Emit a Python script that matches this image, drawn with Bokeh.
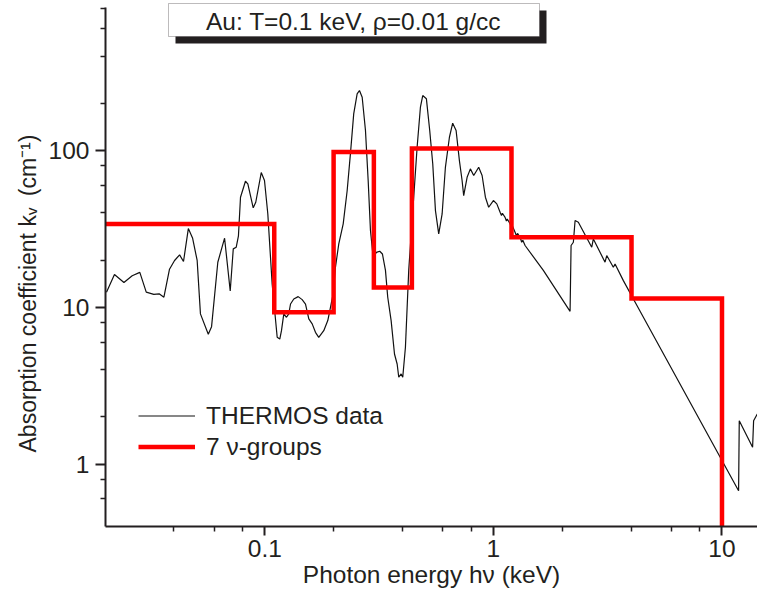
from bokeh.plotting import figure
from bokeh.models import (Range1d, FixedTicker, Label, BoxAnnotation, Legend, LegendItem, Title)
from bokeh.embed import file_html
from bokeh.resources import INLINE

# ---------------- data ----------------
thermos_energy_keV = [
    0.0203, 0.0220, 0.0242, 0.0263, 0.0284, 0.0303, 0.0327, 0.0345, 0.0362, 0.0383,
    0.0403, 0.0424, 0.0441, 0.0463, 0.0483, 0.0506, 0.0523, 0.0566, 0.0585, 0.0623,
    0.0667, 0.0706, 0.0728, 0.0750, 0.0767, 0.0783, 0.0823, 0.0843, 0.0890, 0.0913,
    0.0965, 0.0997, 0.1031, 0.1077, 0.1133, 0.1163, 0.1183, 0.1211, 0.1244, 0.1273,
    0.1296, 0.1339, 0.1400, 0.1457, 0.1507, 0.1558, 0.1612, 0.1666, 0.1722, 0.1811,
    0.1886, 0.1938, 0.1991, 0.2037, 0.2107, 0.2203, 0.2293, 0.2369, 0.2449, 0.2535,
    0.2595, 0.2667, 0.2757, 0.2833, 0.2899, 0.2979, 0.3078, 0.3183, 0.3270, 0.3372,
    0.3450, 0.3570, 0.3693, 0.3793, 0.3855, 0.3949, 0.4013, 0.4123, 0.4262, 0.4482,
    0.4638, 0.4795, 0.4908, 0.5093, 0.5266, 0.5429, 0.5579, 0.5765, 0.5967, 0.6167,
    0.6422, 0.6637, 0.6869, 0.7101, 0.7296, 0.7415, 0.7674, 0.7931, 0.8202, 0.8624,
    0.8925, 0.9227, 0.9537, 1.000, 1.035, 1.070, 1.085, 1.095, 1.125, 1.140,
    1.150, 1.183, 1.200, 1.210, 1.244, 1.260, 1.275, 1.309, 1.330, 1.345,
    1.376, 1.654, 2.165, 2.187, 2.238, 2.277, 2.353, 2.693, 2.737, 3.079,
    3.132, 3.348, 3.406, 3.703, 4.096, 11.82, 11.90, 13.61, 13.75, 14.27,
]
thermos_kappa = [
    12.5, 16.2, 14.4, 15.9, 16.7, 12.5, 12.1, 12.2, 11.6, 17.5,
    19.9, 21.6, 19.6, 31.8, 27.7, 19.9, 9.08, 6.73, 7.53, 19.4,
    27.6, 12.7, 23.6, 24.2, 28.6, 50.4, 63.7, 61.3, 43.1, 46.8,
    72.4, 64.4, 39.4, 14.1, 6.44, 6.28, 7.10, 9.08, 8.64, 9.08,
    10.5, 11.3, 11.7, 11.2, 10.5, 8.43, 7.84, 6.93, 6.44, 7.10,
    8.23, 10.0, 12.2, 18.0, 25.4, 34.1, 55.6, 95.3, 171.5, 230.0,
    241.5, 218.9, 134.2, 64.4, 30.9, 20.9, 22.4, 22.8, 21.9, 17.2,
    11.6, 8.23, 5.04, 4.35, 3.58, 3.76, 3.58, 5.56, 17.2, 50.4,
    105.0, 189.0, 224.4, 213.8, 134.2, 82.3, 41.4, 29.4, 39.4, 78.2,
    121.6, 149.4, 134.2, 86.3, 64.4, 51.6, 67.5, 76.4, 69.3, 78.2,
    69.3, 50.4, 43.5, 48.0, 45.7, 40.4, 38.5, 39.8, 37.5, 35.5,
    36.6, 34.1, 32.3, 33.2, 30.1, 28.7, 29.6, 28.0, 26.0, 26.8,
    24.8, 17.2, 9.43, 24.8, 26.0, 35.8, 34.9, 24.2, 27.3, 19.4,
    21.4, 18.0, 18.9, 14.8, 11.3, 0.676, 1.89, 1.28, 1.89, 2.09,
]
group_edges_keV = [0.01, 0.110, 0.200, 0.300, 0.440, 1.20, 4.02, 10.0]
group_kappa = [34.0, 9.3, 98.0, 13.4, 103.0, 28.0, 11.4]
group_floor = 0.1   # the last group drops off below the axis

x_major_ticks = [0.1, 1, 10]
x_minor_ticks = [0.04, 0.06, 0.08, 0.2, 0.4, 0.6, 0.8, 2, 4, 6, 8]
y_major_ticks = [1, 10, 100]
y_minor_ticks = [0.6, 0.8, 2, 4, 6, 8, 20, 40, 60, 80, 200, 400, 600, 800]
x_limits = (0.0201, 14.3)
y_limits = (0.4, 906)
y_axis_extent = (0.4, 818)

title_text = "Au: T=0.1 keV, \u03c1=0.01 g/cc"
x_title = "Photon energy h\u03bd (keV)"
y_title = "Absorption coefficient k\u1d65\u2002(cm\u207b\u00b9)"
legend_labels = ["THERMOS data", "7 \u03bd-groups"]

# ---------------- build the step outline of the groups ----------------
step_x, step_y = [], []
for i, v in enumerate(group_kappa):
    step_x += [group_edges_keV[i], group_edges_keV[i + 1]]
    step_y += [v, v]
step_x.append(group_edges_keV[-1])
step_y.append(group_floor)

FONT = "Liberation Sans"
INK = "#231f20"
FS = "24.5px"

p = figure(frame_width=652, frame_height=526, x_axis_type="log", y_axis_type="log",
           x_range=Range1d(*x_limits), y_range=Range1d(*y_limits),
           output_backend="svg", toolbar_location=None,
           min_border_left=105, min_border_right=0, min_border_top=0, min_border_bottom=71)
p.outline_line_color = None
p.grid.visible = False
p.background_fill_color = "white"
p.border_fill_color = "white"

black = p.line(thermos_energy_keV, thermos_kappa, line_color="#111111", line_width=1.2)
red = p.line(step_x, step_y, line_color="#ff0000", line_width=4.5, line_join="miter")

for ax, major, minor, tick_out, standoff, labels in (
        (p.xaxis[0], x_major_ticks, x_minor_ticks, 9, 4, {0.1: "0.1", 1: "1", 10: "10"}),
        (p.yaxis[0], y_major_ticks, y_minor_ticks, 10, 6, {1: "1", 10: "10", 100: "100"})):
    ax.ticker = FixedTicker(ticks=major, minor_ticks=minor)
    ax.major_label_overrides = labels
    ax.axis_line_width = 2
    ax.axis_line_color = INK
    ax.major_tick_line_width = 2
    ax.major_tick_line_color = INK
    ax.minor_tick_line_width = 1.5
    ax.minor_tick_line_color = INK
    ax.major_tick_in = 0
    ax.major_tick_out = tick_out
    ax.minor_tick_in = 0
    ax.minor_tick_out = 5
    ax.major_label_text_font = FONT
    ax.major_label_text_font_size = FS
    ax.major_label_text_color = INK
    ax.major_label_standoff = standoff
p.yaxis[0].bounds = y_axis_extent

p.xaxis.axis_label = x_title
p.xaxis.axis_label_text_font = FONT
p.xaxis.axis_label_text_font_size = FS
p.xaxis.axis_label_text_font_style = "normal"
p.xaxis.axis_label_text_color = INK
p.xaxis.axis_label_standoff = 1

p.add_layout(Title(text=y_title, align="left", offset=74, standoff=10,
                   text_font=FONT, text_font_size="23px", text_font_style="normal",
                   text_color=INK), "left")

# title box with drop shadow
p.add_layout(BoxAnnotation(left=70, right=441, top=516, bottom=483,
                           left_units="screen", right_units="screen",
                           top_units="screen", bottom_units="screen",
                           fill_color=INK, fill_alpha=1, line_color=None))
p.add_layout(BoxAnnotation(left=63, right=434, top=523, bottom=490,
                           left_units="screen", right_units="screen",
                           top_units="screen", bottom_units="screen",
                           fill_color="white", fill_alpha=1, line_color=INK, line_width=1))
p.add_layout(Label(x=248, y=505, x_units="screen", y_units="screen", text=title_text,
                   text_font=FONT, text_font_size=FS, text_color=INK,
                   text_align="center", text_baseline="middle"))

legend = Legend(items=[LegendItem(label=legend_labels[0], renderers=[black]),
                       LegendItem(label=legend_labels[1], renderers=[red])],
                location=(33, 64), padding=0, margin=0, spacing=0,
                glyph_width=57, glyph_height=31, label_height=31, label_standoff=11,
                label_text_font=FONT, label_text_font_size=FS, label_text_color=INK,
                border_line_color=None, background_fill_alpha=0)
p.add_layout(legend)

open("out.html", "w").write(file_html(p, INLINE))
